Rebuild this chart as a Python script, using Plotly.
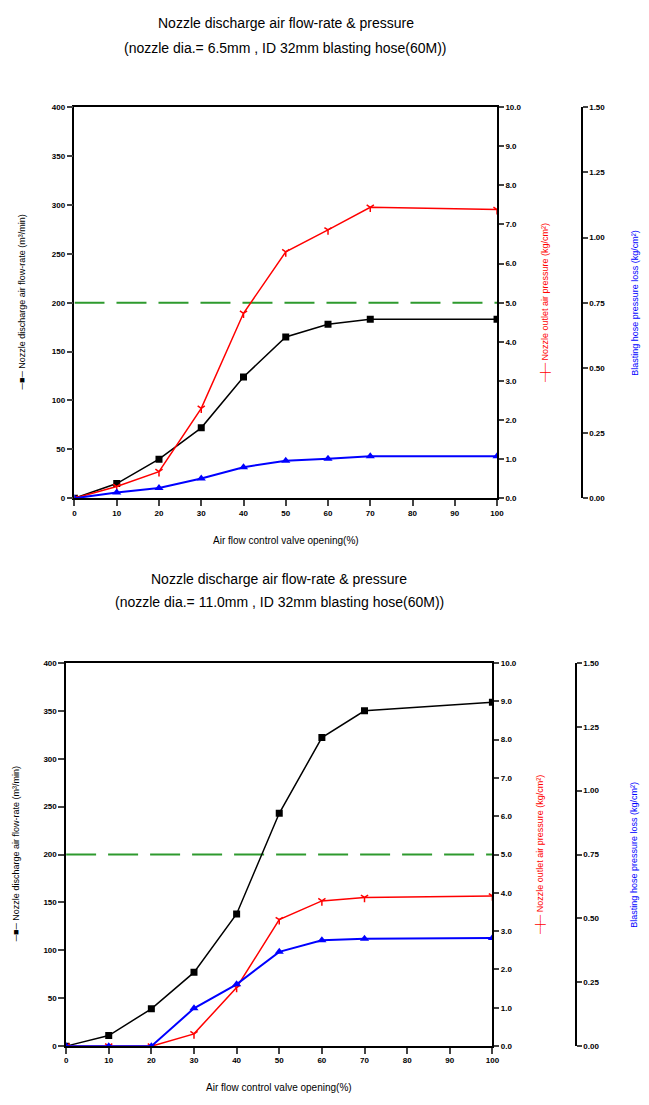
import plotly.graph_objects as go

# ---------------- data ----------------
valve_opening = [0, 10, 20, 30, 40, 50, 60, 70, 100]
x_ticks = [0, 10, 20, 30, 40, 50, 60, 70, 80, 90, 100]

# chart 1: nozzle dia. 6.5 mm
flow_rate_65 = [0, 15, 40, 72, 124, 165, 178, 183, 183]
outlet_pressure_65 = [0, 0.3, 0.68, 2.3, 4.73, 6.3, 6.86, 7.44, 7.38]
hose_loss_65 = [0, 0.022, 0.039, 0.076, 0.119, 0.144, 0.151, 0.161, 0.161]

# chart 2: nozzle dia. 11.0 mm
flow_rate_110 = [0, 11, 39, 77, 138, 243, 322, 350, 359]
outlet_pressure_110 = [0, 0, 0, 0.32, 1.53, 3.3, 3.79, 3.88, 3.92]
hose_loss_110 = [0, 0, 0, 0.148, 0.242, 0.369, 0.414, 0.42, 0.423]

reference_flow = 200  # green dashed reference line

left_ticks = [0, 50, 100, 150, 200, 250, 300, 350, 400]
red_ticks = [0, 1, 2, 3, 4, 5, 6, 7, 8, 9, 10]
blue_ticks = [0, 0.25, 0.5, 0.75, 1.0, 1.25, 1.5]

title_line1 = "Nozzle discharge air flow-rate & pressure"
title_line2 = [
    "(nozzle dia.= 6.5mm , ID 32mm blasting hose(60M))",
    "(nozzle dia.= 11.0mm , ID 32mm blasting hose(60M))",
]
x_title = "Air flow control valve opening(%)"
left_title = "─■─ Nozzle discharge air flow-rate (m³/min)"
red_title = "─┼─ Nozzle outlet air pressure (kg/cm²)"
blue_title = "Blasting hose pressure loss (kg/cm²)"

# ---------------- layout geometry (page pixels) ----------------
W, H = 649, 1105
charts = [
    dict(x0=73.5, x1=502, ytop=104, ybot=498.3, blue_x=588, red_tx=550, blue_tx=642,
         left_tx=20, title_y=[19, 44], xt_y=541,
         flow=flow_rate_65, outlet=outlet_pressure_65, loss=hose_loss_65),
    dict(x0=65, x1=497.3, ytop=664.3, ybot=1050.7, blue_x=582, red_tx=545, blue_tx=640,
         left_tx=14, title_y=[580, 603], xt_y=1092,
         flow=flow_rate_110, outlet=outlet_pressure_110, loss=hose_loss_110),
]

FONT = "Liberation Sans, Arial, sans-serif"
BLACK, RED, BLUE, GREEN = "#000000", "#ff0000", "#0000ff", "#2e9a2e"

fig = go.Figure()
layout = dict(
    width=W, height=H, margin=dict(l=0, r=0, t=0, b=0),
    paper_bgcolor="white", plot_bgcolor="white", showlegend=False,
    font=dict(family=FONT, color="black"),
)
annotations = []


def px(v):
    return v / W


def py(v):
    return 1 - v / H


tickfont = dict(family=FONT, size=8, color="black", weight="bold")

for i, c in enumerate(charts):
    xa = "x" if i == 0 else "x2"
    ya_l = "y" if i == 0 else "y4"
    ya_r = "y2" if i == 0 else "y5"
    ya_b = "y3" if i == 0 else "y6"
    xkey = "xaxis" if i == 0 else "xaxis2"
    lkey, rkey, bkey = ("yaxis", "yaxis2", "yaxis3") if i == 0 else ("yaxis4", "yaxis5", "yaxis6")

    layout[xkey] = dict(
        domain=[px(c["x0"]), px(c["x1"])], anchor=ya_l, range=[0, 100],
        tickvals=x_ticks, ticks="outside", ticklen=6, tickwidth=1.5,
        showline=True, linewidth=1.5, linecolor="black", mirror=True,
        showgrid=False, zeroline=False, tickfont=tickfont,
    )
    layout[lkey] = dict(
        domain=[py(c["ybot"]), py(c["ytop"])], anchor=xa, range=[0, 400],
        tickvals=left_ticks, ticks="outside", ticklen=6, tickwidth=1.5,
        showline=True, linewidth=1.5, linecolor="black",
        showgrid=False, zeroline=False, tickfont=tickfont,
    )
    layout[rkey] = dict(
        overlaying=ya_l, anchor=xa, side="right", range=[0, 10],
        tickvals=red_ticks, ticktext=[f"{v:.1f}" for v in red_ticks],
        ticks="outside", ticklen=5, tickwidth=1.5,
        showline=True, linewidth=1.5, linecolor="black",
        showgrid=False, zeroline=False, tickfont=tickfont,
    )
    layout[bkey] = dict(
        overlaying=ya_l, anchor="free", position=px(c["blue_x"]), side="right", range=[0, 1.5],
        tickvals=blue_ticks, ticktext=[f"{v:.2f}" for v in blue_ticks],
        ticks="outside", ticklen=5, tickwidth=1.5,
        showline=True, linewidth=1.5, linecolor="black",
        showgrid=False, zeroline=False, tickfont=tickfont,
    )

    # reference line
    fig.add_trace(go.Scatter(
        x=[0, 100], y=[reference_flow, reference_flow], xaxis=xa, yaxis=ya_l,
        mode="lines", line=dict(color=GREEN, width=2, dash="30px,12px"), hoverinfo="skip",
    ))
    # flow rate
    fig.add_trace(go.Scatter(
        x=valve_opening, y=c["flow"], xaxis=xa, yaxis=ya_l, mode="lines+markers",
        line=dict(color=BLACK, width=1.5),
        marker=dict(symbol="square", size=7, color=BLACK),
    ))
    # outlet pressure
    fig.add_trace(go.Scatter(
        x=valve_opening, y=c["outlet"], xaxis=xa, yaxis=ya_r, mode="lines+markers",
        line=dict(color=RED, width=1.5),
        marker=dict(symbol="y-down-open", size=6, color=RED, line=dict(color=RED, width=1.5)),
    ))
    # hose pressure loss
    fig.add_trace(go.Scatter(
        x=valve_opening, y=c["loss"], xaxis=xa, yaxis=ya_b, mode="lines+markers",
        line=dict(color=BLUE, width=2),
        marker=dict(symbol="triangle-up", size=8, color=BLUE),
    ))

    cx = (c["x0"] + c["x1"]) / 2
    cy = (c["ytop"] + c["ybot"]) / 2
    # chart title (two lines)
    for line_text, yy in ((title_line1, c["title_y"][0]), (title_line2[i], c["title_y"][1])):
        annotations.append(dict(
            text=line_text, x=px(cx), y=py(yy),
            xref="paper", yref="paper", showarrow=False, xanchor="center", yanchor="middle",
            font=dict(family=FONT, size=14, color="black"),
        ))
    # x-axis title
    annotations.append(dict(
        text=x_title, x=px(cx), y=py(c["xt_y"]), xref="paper", yref="paper",
        showarrow=False, xanchor="center", yanchor="middle",
        font=dict(family=FONT, size=10, color="black"),
    ))
    # left axis title
    annotations.append(dict(
        text=left_title, x=px(c["left_tx"]), y=py(cy), xref="paper", yref="paper",
        showarrow=False, xanchor="center", yanchor="middle", textangle=-90,
        font=dict(family=FONT, size=9, color="black"),
    ))
    # red axis title
    annotations.append(dict(
        text=red_title, x=px(c["red_tx"]), y=py(cy), xref="paper", yref="paper",
        showarrow=False, xanchor="center", yanchor="middle", textangle=-90,
        font=dict(family=FONT, size=9, color=RED),
    ))
    # blue axis title
    annotations.append(dict(
        text=blue_title, x=px(c["blue_tx"]), y=py(cy), xref="paper", yref="paper",
        showarrow=False, xanchor="center", yanchor="middle", textangle=-90,
        font=dict(family=FONT, size=9, color=BLUE),
    ))

layout["annotations"] = annotations
fig.update_layout(**layout)
fig.write_html(
    "out.html",
    config={"displayModeBar": False},
    post_script="document.body.style.margin='0';document.body.style.overflow='hidden';",
)
